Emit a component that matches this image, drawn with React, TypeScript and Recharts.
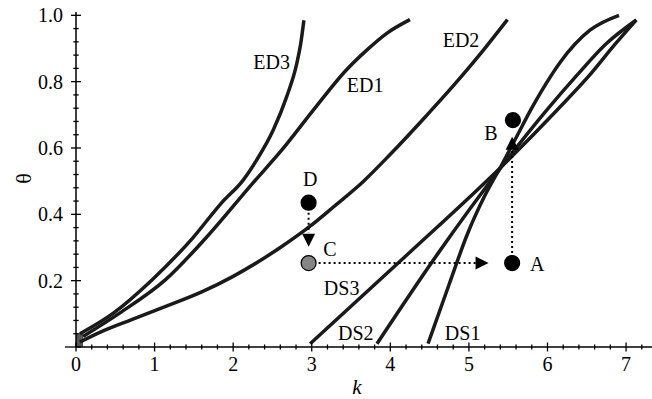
import React from "react";
import { ComposedChart, Line, Scatter, XAxis, YAxis, ReferenceArea } from "recharts";

type Pt = { k: number; theta: number };

// equilibrium curves
const ed3: Pt[] = [
  { k: 0.05, theta: 0.04 },
  { k: 0.48, theta: 0.103 },
  { k: 0.97, theta: 0.203 },
  { k: 1.49, theta: 0.33 },
  { k: 1.85, theta: 0.434 },
  { k: 2.13, theta: 0.504 },
  { k: 2.3, theta: 0.564 },
  { k: 2.51, theta: 0.654 },
  { k: 2.68, theta: 0.754 },
  { k: 2.81, theta: 0.855 },
  { k: 2.86, theta: 0.915 },
  { k: 2.9, theta: 0.985 },
];

const ed1: Pt[] = [
  { k: 0.09, theta: 0.032 },
  { k: 0.56, theta: 0.103 },
  { k: 1.14, theta: 0.203 },
  { k: 1.65, theta: 0.328 },
  { k: 2.25, theta: 0.494 },
  { k: 2.62, theta: 0.594 },
  { k: 3.02, theta: 0.714 },
  { k: 3.44, theta: 0.835 },
  { k: 3.7, theta: 0.895 },
  { k: 3.95, theta: 0.945 },
  { k: 4.25, theta: 0.987 },
];

const ed2: Pt[] = [
  { k: 0.05, theta: 0.015 },
  { k: 0.31, theta: 0.045 },
  { k: 0.7, theta: 0.082 },
  { k: 1.15, theta: 0.123 },
  { k: 1.6, theta: 0.166 },
  { k: 2.0, theta: 0.213 },
  { k: 2.6, theta: 0.3 },
  { k: 3.0, theta: 0.368 },
  { k: 3.3, theta: 0.427 },
  { k: 3.66, theta: 0.5 },
  { k: 4.0, theta: 0.581 },
  { k: 4.45, theta: 0.695 },
  { k: 4.8, theta: 0.787 },
  { k: 5.14, theta: 0.882 },
  { k: 5.49, theta: 0.987 },
];

const ds3: Pt[] = [
  { k: 2.98, theta: 0.01 },
  { k: 4.2, theta: 0.275 },
  { k: 5.42, theta: 0.545 },
  { k: 6.12, theta: 0.714 },
  { k: 6.53, theta: 0.818 },
  { k: 6.85, theta: 0.91 },
  { k: 7.13, theta: 0.986 },
];

const ds2: Pt[] = [
  { k: 3.83, theta: 0.01 },
  { k: 4.6, theta: 0.28 },
  { k: 5.42, theta: 0.545 },
  { k: 5.99, theta: 0.714 },
  { k: 6.37, theta: 0.818 },
  { k: 6.75, theta: 0.915 },
  { k: 7.13, theta: 0.986 },
];

const ds1: Pt[] = [
  { k: 4.48, theta: 0.01 },
  { k: 4.75, theta: 0.19 },
  { k: 4.98, theta: 0.34 },
  { k: 5.2, theta: 0.455 },
  { k: 5.42, theta: 0.55 },
  { k: 5.62, theta: 0.64 },
  { k: 5.78, theta: 0.712 },
  { k: 5.92, theta: 0.77 },
  { k: 6.16, theta: 0.858 },
  { k: 6.54, theta: 0.955 },
  { k: 6.91, theta: 1.0 },
];

// states A-D and the moves between them
const blackPoints = [
  { k: 2.96, theta: 0.435 }, // D
  { k: 5.55, theta: 0.253 }, // A
  { k: 5.56, theta: 0.684 }, // B
];
const greyPoints = [{ k: 2.96, theta: 0.253 }]; // C

const moveDC: Pt[] = [
  { k: 2.96, theta: 0.435 },
  { k: 2.96, theta: 0.344 },
];
const moveCA: Pt[] = [
  { k: 2.96, theta: 0.253 },
  { k: 5.09, theta: 0.253 },
];
const moveAB: Pt[] = [
  { k: 5.55, theta: 0.253 },
  { k: 5.55, theta: 0.594 },
];
const arrowHeads = [
  { k: 2.96, theta: 0.302, dir: "down" },
  { k: 5.25, theta: 0.253, dir: "right" },
  { k: 5.55, theta: 0.634, dir: "up" },
];

const curveLabels = [
  { k: 2.49, theta: 0.858, text: "ED3" },
  { k: 3.68, theta: 0.789, text: "ED1" },
  { k: 4.9, theta: 0.925, text: "ED2" },
  { k: 5.28, theta: 0.646, text: "B" },
  { k: 2.98, theta: 0.506, text: "D" },
  { k: 3.23, theta: 0.296, text: "C" },
  { k: 5.87, theta: 0.251, text: "A" },
  { k: 3.38, theta: 0.178, text: "DS3" },
  { k: 3.56, theta: 0.043, text: "DS2" },
  { k: 4.92, theta: 0.043, text: "DS1" },
];

const xTicks = [
  0, 0.2, 0.4, 0.6, 0.8, 1, 1.2, 1.4, 1.6, 1.8, 2, 2.2, 2.4, 2.6, 2.8, 3, 3.2, 3.4, 3.6,
  3.8, 4, 4.2, 4.4, 4.6, 4.8, 5, 5.2, 5.4, 5.6, 5.8, 6, 6.2, 6.4, 6.6, 6.8, 7, 7.2,
];
const yTicks = [
  0, 0.04, 0.08, 0.12, 0.16, 0.2, 0.24, 0.28, 0.32, 0.36, 0.4, 0.44, 0.48, 0.52, 0.56, 0.6,
  0.64, 0.68, 0.72, 0.76, 0.8, 0.84, 0.88, 0.92, 0.96, 1.0,
];

const FONT = "'Liberation Serif', 'Times New Roman', serif";
const INK = "#1a1a1a";

const isMultiple = (v: number, step: number) => Math.abs(v / step - Math.round(v / step)) < 1e-6;

const XTick = (props: any) => {
  const { x, y, payload } = props;
  const v = payload.value;
  const major = isMultiple(v, 1);
  const len = major ? 4.5 : 2.5;
  return (
    <g>
      <line x1={x} x2={x} y1={y - len} y2={y + len} stroke="#000" strokeWidth={1.3} />
      {major && (
        <text x={x} y={y + 17} textAnchor="middle" dominantBaseline="central" fontFamily={FONT} fontSize={20} fill="#000">
          {String(v)}
        </text>
      )}
    </g>
  );
};

const YTick = (props: any) => {
  const { x, y, payload } = props;
  const v = payload.value;
  const major = isMultiple(v, 0.2);
  const len = major ? 5 : 2.7;
  return (
    <g>
      <line x1={v === 0 ? x - 11 : x - len} x2={x + len} y1={y} y2={y} stroke="#000" strokeWidth={1.3} />
      {major && v !== 0 && (
        <text x={x - 13} y={y} textAnchor="end" dominantBaseline="central" fontFamily={FONT} fontSize={20} fill="#000">
          {v.toFixed(1)}
        </text>
      )}
    </g>
  );
};

const Dot = (fill: string) => (p: any) => (
  <circle cx={p.cx} cy={p.cy} r={7.5} fill={fill} stroke="#000" strokeWidth={1.2} />
);

const ArrowHead = (p: any) => {
  const { cx, cy, payload } = p;
  const L = 13;
  const W = 6.5;
  let pts = "";
  if (payload.dir === "down") pts = `${cx},${cy} ${cx - W},${cy - L} ${cx + W},${cy - L}`;
  else if (payload.dir === "up") pts = `${cx},${cy} ${cx - W},${cy + L} ${cx + W},${cy + L}`;
  else pts = `${cx},${cy} ${cx - L},${cy - W} ${cx - L},${cy + W}`;
  return <polygon points={pts} fill="#000" />;
};

const LabelText = (p: any) => (
  <text x={p.cx} y={p.cy} textAnchor="middle" dominantBaseline="central" fontFamily={FONT} fontSize={20} fill="#000">
    {p.payload.text}
  </text>
);

export default function App() {
  const curve = (data: Pt[], key: string) => (
    <Line
      key={key}
      data={data}
      dataKey="theta"
      type="monotone"
      stroke={INK}
      strokeWidth={3.5}
      dot={false}
      activeDot={false}
      isAnimationActive={false}
    />
  );
  const dotted = (data: Pt[], key: string) => (
    <Line
      key={key}
      data={data}
      dataKey="theta"
      type="linear"
      stroke="#000"
      strokeWidth={2}
      strokeDasharray="2 3"
      dot={false}
      activeDot={false}
      isAnimationActive={false}
    />
  );

  return (
    <div style={{ position: "absolute", left: 0, top: 0, width: 652, height: 399, background: "#fff" }}>
      <ComposedChart width={652} height={399} margin={{ top: 12, right: 0, bottom: 0, left: 0 }}>
        <XAxis
          type="number"
          dataKey="k"
          domain={[0, 7.33]}
          allowDataOverflow
          ticks={xTicks}
          interval={0}
          height={52}
          tickSize={0}
          tickMargin={0}
          tickLine={false}
          tick={<XTick />}
          axisLine={{ stroke: "#000", strokeWidth: 1.5 }}
          label={(p: any) => {
            const vb = p.viewBox;
            return (
              <text
                x={vb.x + vb.width / 2 - 7}
                y={vb.y + 40}
                textAnchor="middle"
                dominantBaseline="central"
                fontFamily={FONT}
                fontStyle="italic"
                fontSize={21}
              >
                k
              </text>
            );
          }}
        />
        <YAxis
          type="number"
          dataKey="theta"
          domain={[0, 1.01]}
          allowDataOverflow
          ticks={yTicks}
          interval={0}
          width={76}
          tickSize={0}
          tickMargin={0}
          tickLine={false}
          tick={<YTick />}
          axisLine={{ stroke: "#000", strokeWidth: 1.5 }}
          label={(p: any) => {
            const vb = p.viewBox;
            const cx = vb.x + 23;
            const cy = vb.y + vb.height / 2 - 1;
            return (
              <text
                x={cx}
                y={cy}
                transform={`rotate(-90 ${cx} ${cy})`}
                textAnchor="middle"
                dominantBaseline="central"
                fontFamily={FONT}
                fontSize={22}
              >
                θ
              </text>
            );
          }}
        />
        <ReferenceArea x1={0} x2={0.09} y1={0} y2={0.042} fill="#555" fillOpacity={1} stroke="none" />
        {curve(ed3, "ed3")}
        {curve(ed1, "ed1")}
        {curve(ed2, "ed2")}
        {curve(ds3, "ds3")}
        {curve(ds2, "ds2")}
        {curve(ds1, "ds1")}
        {dotted(moveDC, "dc")}
        {dotted(moveCA, "ca")}
        {dotted(moveAB, "ab")}
        <Scatter data={arrowHeads} dataKey="theta" shape={ArrowHead} isAnimationActive={false} />
        <Scatter data={blackPoints} dataKey="theta" shape={Dot("#000")} isAnimationActive={false} />
        <Scatter data={greyPoints} dataKey="theta" shape={Dot("#858585")} isAnimationActive={false} />
        <Scatter data={curveLabels} dataKey="theta" shape={LabelText} isAnimationActive={false} />
      </ComposedChart>
    </div>
  );
}
